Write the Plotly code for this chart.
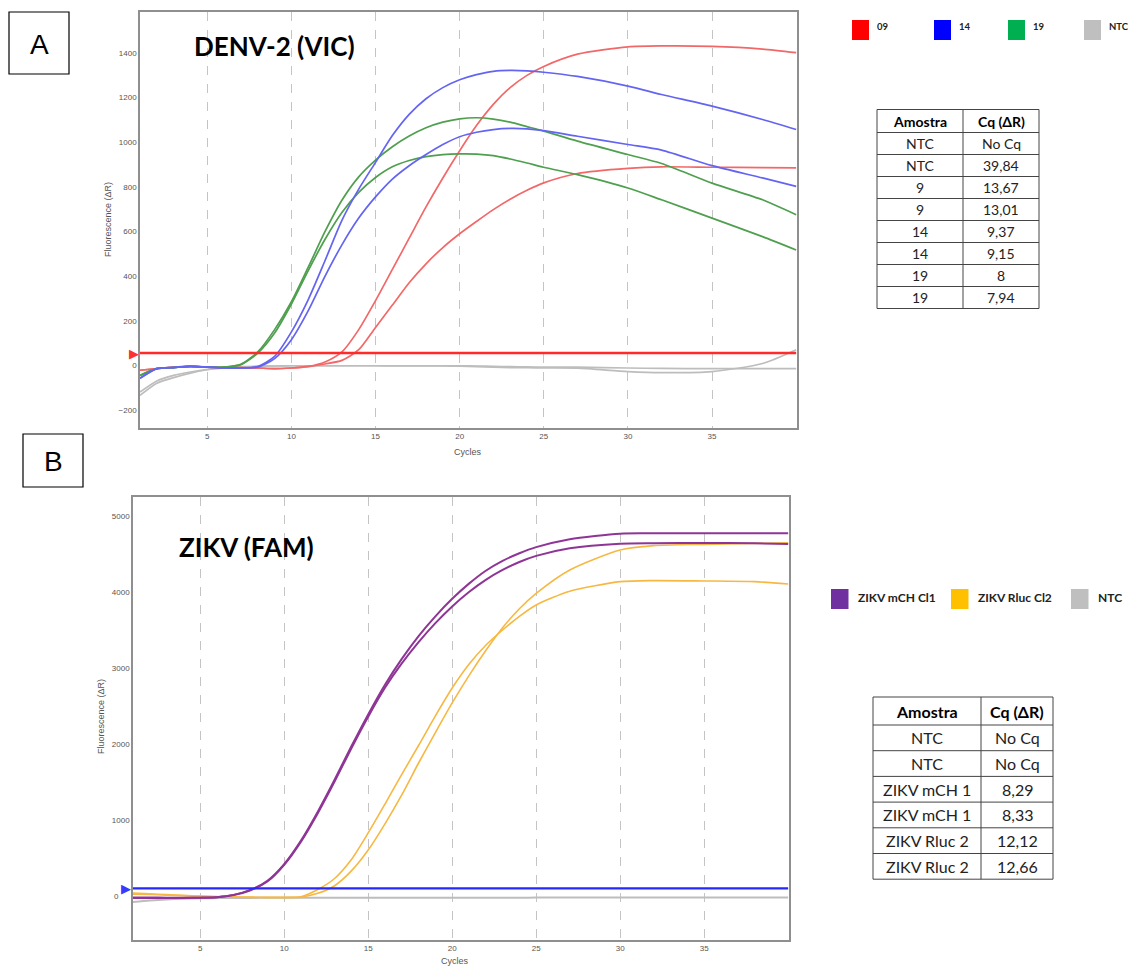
import plotly.graph_objects as go

W, H = 1129, 966

# ---------------- DATA ----------------
cycles = [1, 2, 3, 4, 5, 6, 7, 8, 9, 10, 11, 12, 13, 14, 15, 16, 17, 18, 19, 20,
          21, 22, 23, 24, 25, 27, 30, 32, 35, 38, 40]

# Panel A: DENV-2 (VIC)
denv_09_a = [-22, -15, -8, -5, -8, -10, -10, -12, -15, -12, -5, 15, 60, 160, 290, 430, 570, 710, 840, 962,
             1075, 1170, 1245, 1300, 1340, 1395, 1428, 1432, 1430, 1418, 1402]
denv_09_b = [-22, -15, -8, -5, -8, -10, -10, -12, -15, -12, -6, 6, 22, 70, 170, 270, 370, 455, 528, 590,
             645, 698, 745, 785, 818, 860, 883, 890, 888, 886, 885]
denv_14_a = [-58, -15, -10, -5, -8, -12, -12, -5, 40, 150, 295, 470, 650, 790, 910, 1030, 1125, 1195, 1245, 1280,
             1303, 1318, 1322, 1320, 1314, 1295, 1252, 1214, 1162, 1102, 1057]
denv_14_b = [-58, -15, -10, -5, -8, -12, -12, -8, 30, 115, 245, 400, 540, 660, 755, 835, 895, 945, 990, 1025,
             1045, 1057, 1062, 1060, 1052, 1027, 990, 965, 895, 840, 802]
denv_19_a = [-45, -15, -10, -5, -8, -8, 5, 60, 160, 285, 440, 600, 740, 845, 920, 980, 1028, 1065, 1090, 1105,
             1110, 1104, 1090, 1070, 1050, 1005, 945, 905, 817, 742, 675]
denv_19_b = [-45, -15, -10, -5, -8, -8, 3, 55, 145, 275, 425, 565, 685, 775, 842, 890, 918, 936, 945, 948,
             947, 940, 925, 907, 888, 855, 795, 742, 660, 577, 517]
denv_ntc_a = [-135, -80, -55, -35, -20, -12, -8, -5, -3, -2, -2, -2, -2, -2, -2, -3, -3, -3, -3, -4,
              -6, -8, -10, -11, -12, -13, -28, -33, -28, 8, 70]
denv_ntc_b = [-120, -70, -45, -30, -18, -10, -6, -4, -3, -2, -2, -2, -2, -2, -2, -2, -2, -2, -2, -2,
              -3, -5, -6, -7, -8, -8, -12, -14, -15, -15, -15]
denv_threshold = 55

# Panel B: ZIKV (FAM)
zikv_mch_a = [-20, -20, -22, -22, -22, -15, 15, 80, 200, 420, 730, 1110, 1530, 1970, 2390, 2780, 3120, 3420, 3680, 3910,
              4110, 4280, 4410, 4510, 4590, 4695, 4768, 4772, 4772, 4772, 4772]
zikv_mch_b = [-25, -25, -25, -25, -22, -15, 12, 75, 190, 410, 715, 1090, 1505, 1945, 2360, 2740, 3060, 3340, 3590, 3810,
              4000, 4160, 4290, 4395, 4475, 4575, 4635, 4642, 4645, 4640, 4632]
zikv_rluc_a = [40, 30, 18, 8, 0, -8, -12, -15, -18, -18, -10, 85, 230, 480, 830, 1210, 1600, 1980, 2370, 2737,
               3050, 3300, 3500, 3680, 3830, 4010, 4136, 4150, 4145, 4136, 4105]
zikv_rluc_b = [25, 20, 12, 4, -3, -10, -14, -18, -20, -20, -15, 35, 135, 330, 605, 950, 1330, 1750, 2150, 2540,
               2900, 3230, 3530, 3780, 3982, 4290, 4553, 4610, 4627, 4640, 4649]
zikv_ntc = [-80, -60, -45, -35, -30, -27, -25, -25, -24, -24, -24, -24, -23, -23, -23, -23, -22, -22, -22, -22,
            -22, -22, -22, -22, -21, -21, -21, -21, -20, -20, -20]
zikv_threshold = 100

x_ticks = [5, 10, 15, 20, 25, 30, 35]
denv_y_ticks = [-200, 0, 200, 400, 600, 800, 1000, 1200, 1400]
zikv_y_ticks = [0, 1000, 2000, 3000, 4000, 5000]
zikv_y_ticktext = ["0\u00a0\u00a0\u00a0\u00a0\u00a0", "1000", "2000", "3000", "4000", "5000"]

denv_legend = ["09", "14", "19", "NTC"]
zikv_legend = ["ZIKV mCH Cl1", "ZIKV Rluc Cl2", "NTC"]

table_header = ["Amostra", "Cq (ΔR)"]
denv_table_amostra = ["NTC", "NTC", "9", "9", "14", "14", "19", "19"]
denv_table_cq = ["No Cq", "39,84", "13,67", "13,01", "9,37", "9,15", "8", "7,94"]
zikv_table_amostra = ["NTC", "NTC", "ZIKV mCH 1", "ZIKV mCH 1", "ZIKV Rluc 2", "ZIKV Rluc 2"]
zikv_table_cq = ["No Cq", "No Cq", "8,29", "8,33", "12,12", "12,66"]

# ---------------- STYLE ----------------
RED, BLUE, GREEN, GRAY = "#f26868", "#6464f2", "#4f9f4f", "#bdbdbd"
PURPLE, ORANGE = "#8e3596", "#f7b842"


def fx(px):
    return px / W


def fy(py):
    return 1 - py / H


fig = go.Figure()

# Panel A traces
for ys, col in [(denv_ntc_a, GRAY), (denv_ntc_b, GRAY),
                (denv_09_b, RED), (denv_09_a, RED),
                (denv_19_b, GREEN), (denv_19_a, GREEN),
                (denv_14_b, BLUE), (denv_14_a, BLUE)]:
    fig.add_trace(go.Scatter(x=cycles, y=ys, mode="lines", xaxis="x", yaxis="y",
                             line=dict(color=col, width=1.7, shape="spline", smoothing=0.7),
                             showlegend=False, hoverinfo="skip"))
fig.add_trace(go.Scatter(x=[cycles[0], cycles[-1]], y=[denv_threshold] * 2, mode="lines", xaxis="x", yaxis="y",
                         line=dict(color="#ff2a2a", width=2.6), showlegend=False, hoverinfo="skip"))

# Panel B traces
for ys, col, w in [(zikv_ntc, GRAY, 2.0),
                   (zikv_rluc_b, ORANGE, 1.6), (zikv_rluc_a, ORANGE, 1.6),
                   (zikv_mch_b, PURPLE, 2.0), (zikv_mch_a, PURPLE, 2.0)]:
    fig.add_trace(go.Scatter(x=cycles, y=ys, mode="lines", xaxis="x2", yaxis="y2",
                             line=dict(color=col, width=w, shape="spline", smoothing=0.7),
                             showlegend=False, hoverinfo="skip"))
fig.add_trace(go.Scatter(x=[cycles[0], cycles[-1]], y=[zikv_threshold] * 2, mode="lines", xaxis="x2", yaxis="y2",
                         line=dict(color="#2626ff", width=2.2), showlegend=False, hoverinfo="skip"))

axis_common = dict(showline=True, mirror=True, linecolor="#8f8f8f", linewidth=1.5,
                   zeroline=False, ticks="", tickfont=dict(family="Liberation Sans", size=8, color="#555"))

fig.update_layout(
    width=W, height=H, margin=dict(l=0, r=0, t=0, b=0),
    paper_bgcolor="white", plot_bgcolor="white",
    xaxis=dict(domain=[fx(140), fx(797)], range=[1.0, 40.05], tickvals=x_ticks,
               showgrid=True, gridcolor="#c4c4c4", griddash="dash", gridwidth=1,
               anchor="y", **axis_common),
    yaxis=dict(domain=[fy(428), fy(12)], range=[-281, 1584], tickvals=denv_y_ticks,
               showgrid=False, anchor="x", **axis_common),
    xaxis2=dict(domain=[fx(133), fx(789)], range=[1.0, 40.05], tickvals=x_ticks,
                showgrid=True, gridcolor="#c4c4c4", griddash="dash", gridwidth=1,
                anchor="y2", **axis_common),
    yaxis2=dict(domain=[fy(940), fy(497)], range=[-579, 5250], tickvals=zikv_y_ticks,
                ticktext=zikv_y_ticktext, showgrid=False, anchor="x2", **axis_common),
)

annotations = []
shapes = []


def text(x, y, t, size, family="Lato", color="black", xanchor="center", angle=0):
    annotations.append(dict(x=fx(x), y=fy(y), xref="paper", yref="paper", text=t, textangle=angle,
                            xanchor=xanchor, yanchor="middle", showarrow=False,
                            font=dict(family=family, size=size, color=color)))


# Threshold markers (triangles at left edge, tied to threshold value on y axis)
annotations.append(dict(x=fx(141), y=denv_threshold, xref="paper", yref="y", text="▶",
                        xanchor="right", yanchor="middle", showarrow=False,
                        font=dict(family="DejaVu Sans", size=13, color="#ff3030")))
annotations.append(dict(x=fx(133), y=zikv_threshold, xref="paper", yref="y2", text="▶",
                        xanchor="right", yanchor="middle", showarrow=False,
                        font=dict(family="DejaVu Sans", size=13, color="#3a3aff")))

# Axis titles
text(108, 220, "Fluorescence (ΔR)", 9, "Liberation Sans", "#555", angle=-90)
text(468, 452, "Cycles", 9, "Liberation Sans", "#555")
text(101, 717, "Fluorescence (ΔR)", 9, "Liberation Sans", "#555", angle=-90)
text(455, 961, "Cycles", 9, "Liberation Sans", "#555")

# In-plot titles
text(192, 46, "<b>DENV-2 (VIC)</b>", 26, xanchor="left")
text(177, 547, "<b>ZIKV (FAM)</b>", 26, xanchor="left")

# Panel letters
for (x0, y0, x1, y1, letter) in [(9, 12, 69, 74, "A"), (23, 434, 83, 487, "B")]:
    shapes.append(dict(type="rect", xref="paper", yref="paper", x0=fx(x0), x1=fx(x1), y0=fy(y1), y1=fy(y0),
                       line=dict(color="black", width=1.2), fillcolor="white", layer="below"))
    text((x0 + x1) / 2, (y0 + y1) / 2 + 1, letter, 28, "Liberation Sans")

# Legends
for (sx, col, t) in zip([852, 934, 1008, 1084], ["#ff0000", "#0000ff", "#00b050", "#bfbfbf"], denv_legend):
    shapes.append(dict(type="rect", xref="paper", yref="paper", x0=fx(sx), x1=fx(sx + 17),
                       y0=fy(40), y1=fy(20), line=dict(width=0), fillcolor=col))
    text(sx + 23, 27, f"<b>{t}</b>", 9.5, "Lato", "#222", xanchor="left")
for (sx, col, t) in zip([831, 951, 1071], ["#7030a0", "#ffc000", "#bfbfbf"], zikv_legend):
    shapes.append(dict(type="rect", xref="paper", yref="paper", x0=fx(sx), x1=fx(sx + 17.5),
                       y0=fy(609), y1=fy(589), line=dict(width=0), fillcolor=col))
    text(sx + 25, 597, f"<b>{t}</b>", 12, "Lato", "#222", xanchor="left")


# Tables drawn as grid + text
def draw_table(col_edges, top, header_h, row_h, columns, size):
    n = len(columns[0])
    row_edges = [top, top + header_h] + [top + header_h + row_h * (i + 1) for i in range(n)]
    for ry in row_edges:
        shapes.append(dict(type="line", xref="paper", yref="paper", x0=fx(col_edges[0]), x1=fx(col_edges[-1]),
                           y0=fy(ry), y1=fy(ry), line=dict(color="#444", width=1)))
    for cx in col_edges:
        shapes.append(dict(type="line", xref="paper", yref="paper", x0=fx(cx), x1=fx(cx),
                           y0=fy(row_edges[-1]), y1=fy(row_edges[0]), line=dict(color="#444", width=1)))
    for c, (hdr, vals) in enumerate(zip(table_header, columns)):
        cx = (col_edges[c] + col_edges[c + 1]) / 2
        text(cx, (row_edges[0] + row_edges[1]) / 2, f"<b>{hdr}</b>", size, "Lato", "black")
        for i, v in enumerate(vals):
            text(cx, (row_edges[i + 1] + row_edges[i + 2]) / 2, v, size, "Lato", "#222")


draw_table([877, 963, 1039], 109.5, 23, 22, [denv_table_amostra, denv_table_cq], 14)
draw_table([873, 981, 1053], 697, 28, 25.7, [zikv_table_amostra, zikv_table_cq], 16)

fig.update_layout(annotations=annotations, shapes=shapes)

fig.write_html("out.html")
